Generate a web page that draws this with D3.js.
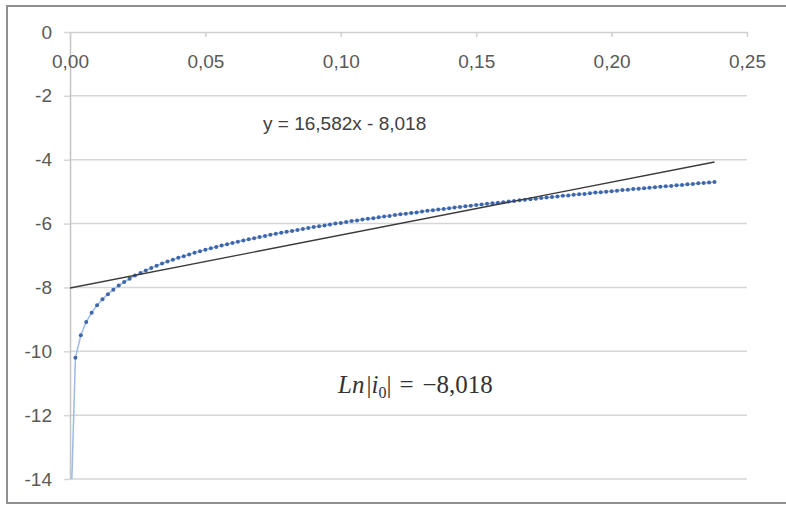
<!DOCTYPE html>
<html>
<head>
<meta charset="utf-8">
<script src="https://cdn.jsdelivr.net/npm/d3@7/dist/d3.min.js"></script>
<style>
  body { margin: 0; background: #fff; }
  svg text { font-family: "Liberation Sans", Arial, sans-serif; }
</style>
</head>
<body>
<div id="chart"></div>
<script>
var svgWidth = 786;
var svgHeight = 506;

var margin = { top: 32, right: 39, bottom: 27, left: 70 };
var width = svgWidth - margin.left - margin.right;
var height = svgHeight - margin.top - margin.bottom;

// overpotential (x) and ln|i| (y)
var etaValues = [
  0.0004, 0.002, 0.004, 0.006, 0.008, 0.010, 0.012, 0.014, 0.016, 0.018, 0.020,
  0.022, 0.024, 0.026, 0.028, 0.030, 0.032, 0.034, 0.036, 0.038, 0.040,
  0.042, 0.044, 0.046, 0.048, 0.050, 0.052, 0.054, 0.056, 0.058, 0.060,
  0.062, 0.064, 0.066, 0.068, 0.070, 0.072, 0.074, 0.076, 0.078, 0.080,
  0.082, 0.084, 0.086, 0.088, 0.090, 0.092, 0.094, 0.096, 0.098, 0.100,
  0.102, 0.104, 0.106, 0.108, 0.110, 0.112, 0.114, 0.116, 0.118, 0.120,
  0.122, 0.124, 0.126, 0.128, 0.130, 0.132, 0.134, 0.136, 0.138, 0.140,
  0.142, 0.144, 0.146, 0.148, 0.150, 0.152, 0.154, 0.156, 0.158, 0.160,
  0.162, 0.164, 0.166, 0.168, 0.170, 0.172, 0.174, 0.176, 0.178, 0.180,
  0.182, 0.184, 0.186, 0.188, 0.190, 0.192, 0.194, 0.196, 0.198, 0.200,
  0.202, 0.204, 0.206, 0.208, 0.210, 0.212, 0.214, 0.216, 0.218, 0.220,
  0.222, 0.224, 0.226, 0.228, 0.230, 0.232, 0.234, 0.236, 0.238
];
var lnCurrent = [
  -14.8, -10.20, -9.50, -9.08, -8.79, -8.56, -8.37, -8.21, -8.07, -7.94, -7.83,
  -7.73, -7.63, -7.55, -7.47, -7.39, -7.32, -7.25, -7.19, -7.13, -7.07,
  -7.02, -6.97, -6.91, -6.87, -6.82, -6.77, -6.73, -6.69, -6.65, -6.61,
  -6.57, -6.53, -6.49, -6.46, -6.42, -6.39, -6.35, -6.32, -6.29, -6.26,
  -6.23, -6.20, -6.17, -6.14, -6.11, -6.08, -6.06, -6.03, -6.00, -5.98,
  -5.95, -5.92, -5.90, -5.87, -5.85, -5.83, -5.80, -5.78, -5.76, -5.73,
  -5.71, -5.69, -5.67, -5.65, -5.62, -5.60, -5.58, -5.56, -5.54, -5.52,
  -5.50, -5.48, -5.46, -5.44, -5.42, -5.40, -5.38, -5.36, -5.35, -5.33,
  -5.31, -5.29, -5.27, -5.25, -5.24, -5.22, -5.20, -5.18, -5.17, -5.15,
  -5.13, -5.12, -5.10, -5.08, -5.07, -5.05, -5.03, -5.02, -5.00, -4.99,
  -4.97, -4.95, -4.94, -4.92, -4.91, -4.89, -4.88, -4.86, -4.85, -4.83,
  -4.82, -4.80, -4.79, -4.77, -4.76, -4.74, -4.73, -4.71, -4.70
];

var xTicks = [0, 0.05, 0.10, 0.15, 0.20, 0.25];
var xTickLabels = ["0,00", "0,05", "0,10", "0,15", "0,20", "0,25"];
var yTicks = [0, -2, -4, -6, -8, -10, -12, -14];

// linear trendline shown on the chart
var trendSlope = 16.582;
var trendIntercept = -8.018;
var trendRange = [0, 0.238];
var trendLabel = "y = 16,582x - 8,018";

var points = etaValues.map(function(x, i) {
  return { x: x, y: lnCurrent[i] };
});

var svg = d3.select("#chart")
  .append("svg")
  .attr("width", svgWidth)
  .attr("height", svgHeight);

// chart area border (cut off on the right in the original)
svg.append("rect")
  .attr("x", 7)
  .attr("y", 6)
  .attr("width", 800)
  .attr("height", 497)
  .attr("fill", "#fff")
  .attr("stroke", "#8f8f8f")
  .attr("stroke-width", 2);

var chartGroup = svg.append("g")
  .attr("transform", `translate(${margin.left}, ${margin.top})`);

var xLinearScale = d3.scaleLinear().domain([0, 0.25]).range([0, width]);
var yLinearScale = d3.scaleLinear().domain([-14, 0]).range([height, 0]);

// horizontal gridlines
chartGroup.append("g")
  .selectAll("line")
  .data(yTicks.filter(d => d !== 0))
  .enter()
  .append("line")
  .attr("x1", 0)
  .attr("x2", width)
  .attr("y1", d => yLinearScale(d))
  .attr("y2", d => yLinearScale(d))
  .attr("stroke", "#d6d6d6")
  .attr("stroke-width", 1.5);

// y axis
var leftAxis = d3.axisLeft(yLinearScale)
  .tickValues(yTicks)
  .tickSize(6)
  .tickSizeOuter(0)
  .tickPadding(12)
  .tickFormat(d => String(d));

var yAxis = chartGroup.append("g").call(leftAxis);
yAxis.select(".domain").attr("stroke", "#c4c4c4").attr("stroke-width", 1.5);
yAxis.selectAll(".tick line").attr("stroke", "#d6d6d6").attr("stroke-width", 1.5);
yAxis.selectAll("text")
  .attr("fill", "#595959")
  .style("font-size", "19px");

// x axis sits on y = 0 (top of plot), labels below it
var topAxis = d3.axisBottom(xLinearScale)
  .tickValues(xTicks)
  .tickSize(5)
  .tickSizeOuter(0)
  .tickPadding(18)
  .tickFormat((d, i) => xTickLabels[i]);

var xAxis = chartGroup.append("g")
  .attr("transform", `translate(0, ${yLinearScale(0)})`)
  .call(topAxis);
xAxis.select(".domain").attr("stroke", "#cfcfcf").attr("stroke-width", 1.5);
xAxis.selectAll(".tick line").attr("stroke", "#cfcfcf").attr("stroke-width", 1.5);
xAxis.selectAll("text")
  .attr("fill", "#595959")
  .style("font-size", "19px");

// clip data to the plot area
svg.append("clipPath")
  .attr("id", "plotClip")
  .append("rect")
  .attr("x", 0)
  .attr("y", 0)
  .attr("width", width)
  .attr("height", height);

var dataGroup = chartGroup.append("g").attr("clip-path", "url(#plotClip)");

var line = d3.line()
  .x(d => xLinearScale(d.x))
  .y(d => yLinearScale(d.y));

dataGroup.append("path")
  .datum(points)
  .attr("d", line)
  .attr("fill", "none")
  .attr("stroke", "#9dbbe6")
  .attr("stroke-width", 1.5);

dataGroup.selectAll("circle")
  .data(points)
  .enter()
  .append("circle")
  .attr("cx", d => xLinearScale(d.x))
  .attr("cy", d => yLinearScale(d.y))
  .attr("r", 2)
  .attr("fill", "#3e66ab");

// trendline
dataGroup.append("path")
  .datum(trendRange.map(x => ({ x: x, y: trendSlope * x + trendIntercept })))
  .attr("d", line)
  .attr("fill", "none")
  .attr("stroke", "#3a3a3a")
  .attr("stroke-width", 1.3);

// trendline equation
svg.append("text")
  .attr("x", 263)
  .attr("y", 130)
  .attr("fill", "#404040")
  .style("font-size", "19px")
  .text(trendLabel);

// Ln|i0| annotation
var mathText = svg.append("text")
  .attr("x", 338)
  .attr("y", 393)
  .attr("fill", "#333")
  .style("font-family", "'Liberation Serif', 'DejaVu Serif', serif")
  .style("font-size", "25px");

mathText.append("tspan").style("font-style", "italic").text("Ln");
mathText.append("tspan").attr("dx", 2).text("|");
mathText.append("tspan").style("font-style", "italic").text("i");
mathText.append("tspan").attr("dy", 5).style("font-size", "16px").text("0");
mathText.append("tspan").attr("dy", -5).text("|");
mathText.append("tspan").attr("dx", 8).text("=");
mathText.append("tspan").attr("dx", 9).text("\u22128,018");
</script>
</body>
</html>
